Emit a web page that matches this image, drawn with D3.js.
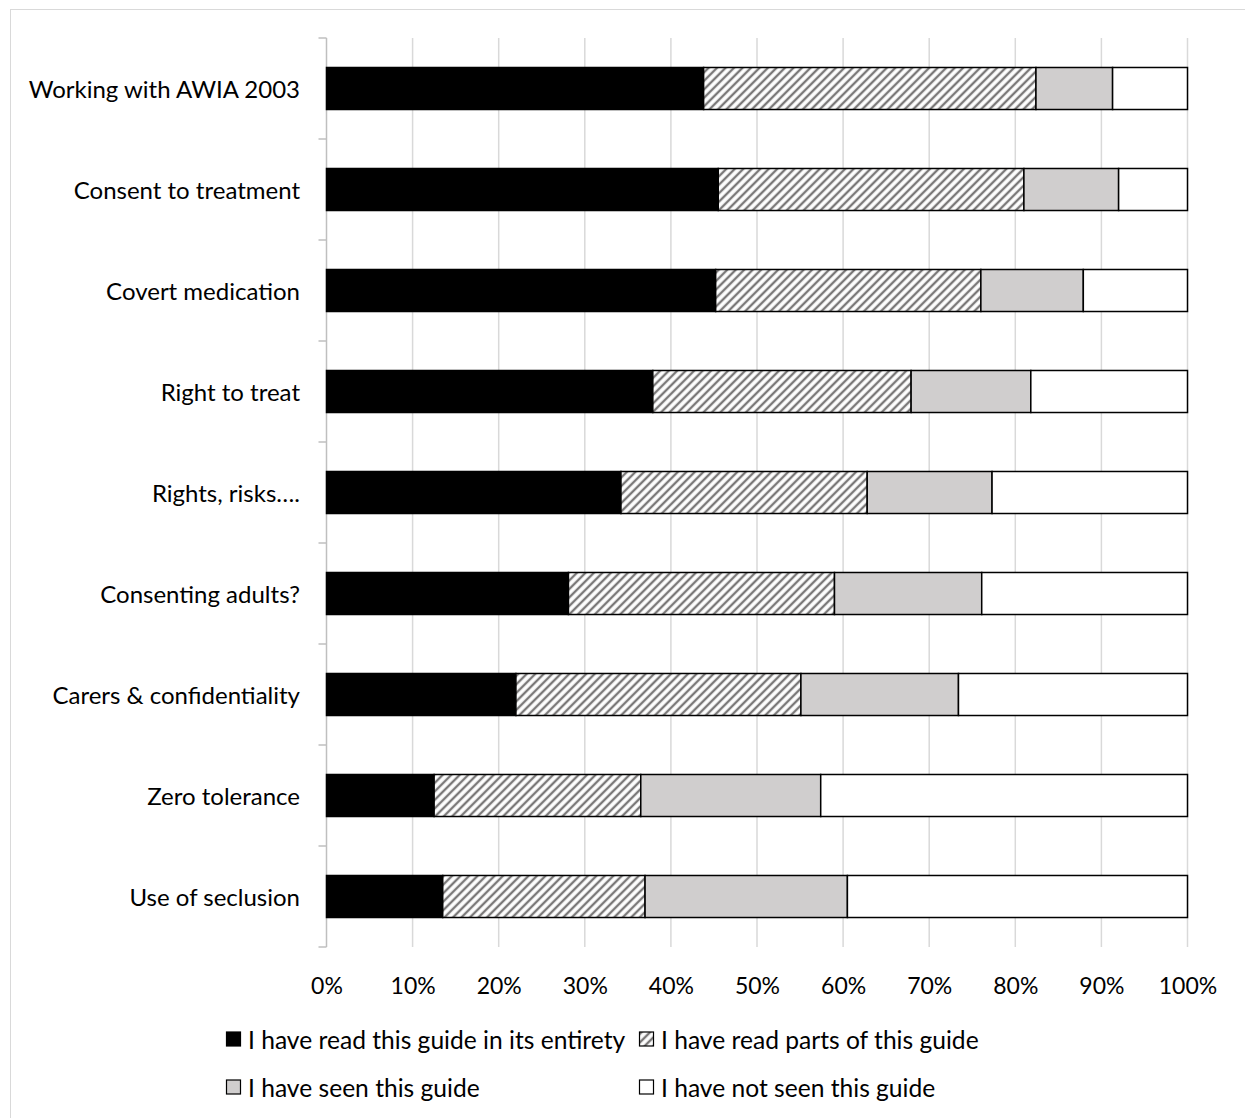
<!DOCTYPE html>
<html>
<head>
<meta charset="utf-8">
<script src="https://cdn.jsdelivr.net/npm/d3@7"></script>
<style>
  html, body { margin: 0; padding: 0; background: #fff; }
  svg { display: block; }
  text { font-family: Lato, "Noto Sans", sans-serif; fill: #000; }
</style>
</head>
<body>
<svg id="chart" width="1245" height="1118"></svg>
<script>
// Guide categories, top to bottom
const categories = [
  "Working with AWIA 2003",
  "Consent to treatment",
  "Covert medication",
  "Right to treat",
  "Rights, risks….",
  "Consenting adults?",
  "Carers & confidentiality",
  "Zero tolerance",
  "Use of seclusion"
];

// Share of respondents (%) per response, one value per category
const readEntirety = [43.8, 45.5, 45.2, 37.9, 34.2, 28.1, 22.0, 12.5, 13.5];
const readParts    = [38.6, 35.5, 30.8, 30.0, 28.6, 30.9, 33.1, 24.0, 23.5];
const seenGuide    = [ 8.9, 11.0, 11.9, 13.9, 14.5, 17.1, 18.3, 20.9, 23.5];
const notSeen      = [ 8.7,  8.0, 12.1, 18.2, 22.7, 23.9, 26.6, 42.6, 39.5];

const seriesNames = [
  "I have read this guide in its entirety",
  "I have read parts of this guide",
  "I have seen this guide",
  "I have not seen this guide"
];
const seriesKeys = ["entirety", "parts", "seen", "notSeen"];
const tickValues = [0, 10, 20, 30, 40, 50, 60, 70, 80, 90, 100];

const svg = d3.select("#chart");

// Hatched fill for "read parts": wide upward diagonal stripes
const defs = svg.append("defs");
const pat = defs.append("pattern")
  .attr("id", "hatch")
  .attr("patternUnits", "userSpaceOnUse")
  .attr("width", 6).attr("height", 6)
  .attr("patternTransform", "rotate(45)");
pat.append("rect").attr("width", 6).attr("height", 6).attr("fill", "#fff");
pat.append("rect")
  .attr("x", 1.8).attr("y", 0).attr("width", 2.4).attr("height", 6)
  .attr("fill", "#7a7878");

const fills = {
  entirety: "#000000",
  parts: "url(#hatch)",
  seen: "#d0cece",
  notSeen: "#ffffff"
};

// Outer chart border
svg.append("rect")
  .attr("x", 10.5).attr("y", 9.5)
  .attr("width", 1240).attr("height", 1120)
  .attr("fill", "none").attr("stroke", "#d9d9d9").attr("stroke-width", 1);

const x = d3.scaleLinear().domain([0, 100]).range([326.5, 1187.5]);
const y = d3.scaleBand().domain(categories)
  .range([38, 947]).paddingInner(0.584).paddingOuter(0.292);
const yTop = 38, yBottom = 947;

// Vertical gridlines
svg.append("g").selectAll("line")
  .data(tickValues.filter(d => d > 0))
  .join("line")
  .attr("x1", d => x(d)).attr("x2", d => x(d))
  .attr("y1", yTop).attr("y2", yBottom)
  .attr("stroke", "#d9d9d9").attr("stroke-width", 1.5);

// Category axis line with outward ticks at band boundaries
const step = y.step();
const boundaries = d3.range(categories.length + 1).map(i => yTop + i * step);
const catAxis = svg.append("g");
catAxis.append("line")
  .attr("x1", x(0)).attr("x2", x(0))
  .attr("y1", yTop).attr("y2", yBottom)
  .attr("stroke", "#bfbfbf").attr("stroke-width", 1.5);
catAxis.selectAll("line.tick")
  .data(boundaries)
  .join("line").attr("class", "tick")
  .attr("x1", x(0) - 8).attr("x2", x(0))
  .attr("y1", d => d).attr("y2", d => d)
  .attr("stroke", "#bfbfbf").attr("stroke-width", 1.5);

// Category labels
svg.append("g").selectAll("text")
  .data(categories)
  .join("text")
  .attr("x", 300)
  .attr("y", d => y(d) + y.bandwidth() / 2)
  .attr("text-anchor", "end")
  .attr("dominant-baseline", "central")
  .attr("font-size", 24)
  .text(d => d);

// Stacked bars
const rows = categories.map((c, i) => ({
  category: c,
  entirety: readEntirety[i],
  parts: readParts[i],
  seen: seenGuide[i],
  notSeen: notSeen[i]
}));
const stacked = d3.stack().keys(seriesKeys)(rows);

svg.append("g").selectAll("g")
  .data(stacked)
  .join("g")
  .attr("fill", d => fills[d.key])
  .selectAll("rect")
  .data(d => d)
  .join("rect")
  .attr("x", d => x(d[0]))
  .attr("y", d => y(d.data.category))
  .attr("width", d => x(d[1]) - x(d[0]))
  .attr("height", y.bandwidth())
  .attr("stroke", "#000")
  .attr("stroke-width", 1.5);

// Percentage axis
const xAxis = d3.axisBottom(x)
  .tickValues(tickValues)
  .tickFormat(d => d + "%")
  .tickSize(0)
  .tickPadding(0);
const gx = svg.append("g")
  .attr("transform", "translate(0,985)")
  .call(xAxis);
gx.select(".domain").remove();
gx.selectAll("text")
  .attr("font-size", 23)
  .attr("font-family", "Lato, 'Noto Sans', sans-serif")
  .attr("fill", "#000")
  .attr("dy", null)
  .attr("y", 0)
  .attr("dominant-baseline", "central");

// Legend
const legendPos = [
  { x: 226, y: 1039 },
  { x: 639, y: 1039 },
  { x: 226, y: 1087 },
  { x: 639, y: 1087 }
];
const legend = svg.append("g").selectAll("g")
  .data(seriesKeys)
  .join("g")
  .attr("transform", (d, i) => `translate(${legendPos[i].x},${legendPos[i].y})`);
legend.append("rect")
  .attr("x", 0.5).attr("y", -7)
  .attr("width", 14).attr("height", 14)
  .attr("fill", d => fills[d])
  .attr("stroke", "#000").attr("stroke-width", 1.2);
legend.append("text")
  .attr("x", 22)
  .attr("y", 0)
  .attr("dominant-baseline", "central")
  .attr("font-size", 24.6)
  .text((d, i) => seriesNames[i]);
</script>
</body>
</html>
